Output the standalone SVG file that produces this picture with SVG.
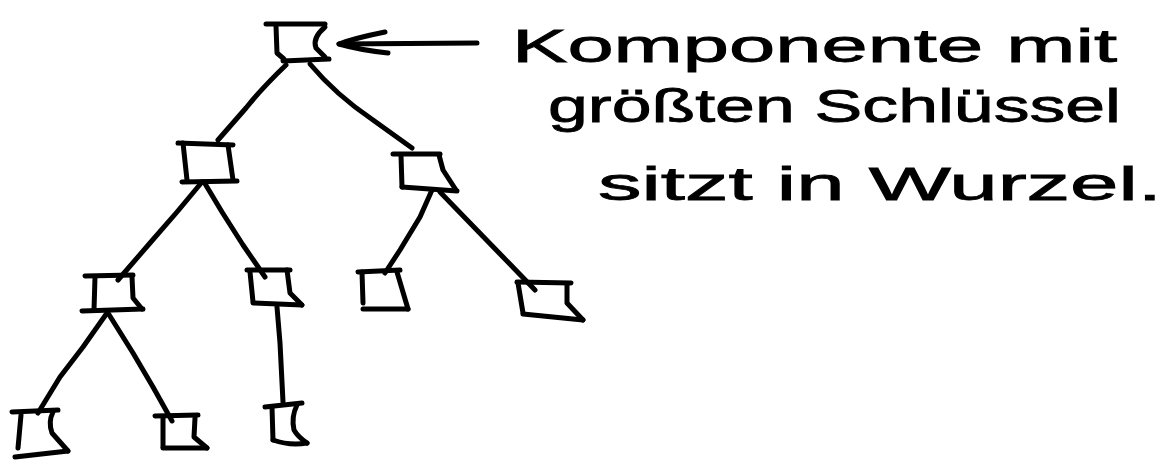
<svg xmlns="http://www.w3.org/2000/svg" width="1176" height="461" viewBox="0 0 1176 461">
<style>
.ink{fill:none;stroke:#000;stroke-width:5;stroke-linecap:round;stroke-linejoin:round}
.lbl{font-family:"Liberation Sans",Arial,sans-serif;font-size:46px;fill:#000;stroke:#000;stroke-width:0.8}
</style>
<rect width="1176" height="461" fill="#fff"/>
<g id="connectors" class="ink">
<path d="M286,65 Q262,88 246,108 L218,140"/>
<path d="M310,64 Q336,95 373,120 L412,148"/>
<path d="M202,182 L177,212 L150,243 L118,280"/>
<path d="M204,182 L222,212 L243,245 L265,277"/>
<path d="M432,190 L420,217 L400,250 L385,273"/>
<path d="M440,192 L470,223 L503,257 L535,290"/>
<path d="M107,313 L83,347 L60,377 L38,413"/>
<path d="M108,313 L133,353 L153,387 L172,421"/>
<path d="M277,307 L280,343 L283,402"/>
<path d="M477,43 L339,44"/>
<path d="M385,32 Q355,38 339,44 Q360,50 388,53"/>
</g>
<g id="root" class="ink">
<path d="M266,24 L325,24"/>
<path d="M276,26 L277,53 L284,59"/>
<path d="M283,61 L329,59"/>
<path d="M325,27 Q312,38 316,48 L325,57"/>
</g>
<g id="n1-left" class="ink">
<path d="M178,143 L233,145"/>
<path d="M183,143 L187,180"/>
<path d="M228,145 L233,180"/>
<path d="M182,182 L237,181"/>
</g>
<g id="n1-right" class="ink">
<path d="M393,154 L440,154"/>
<path d="M401,155 L402,187"/>
<path d="M439,155 L443,170 L456,190"/>
<path d="M402,187 L457,191"/>
</g>
<g id="n2-a" class="ink">
<path d="M85,276 L133,275"/>
<path d="M95,277 L94,310"/>
<path d="M132,277 L133,298 L142,309"/>
<path d="M82,311 L143,309"/>
</g>
<g id="n2-b" class="ink">
<path d="M247,270 L290,270"/>
<path d="M250,272 L253,302"/>
<path d="M287,270 L290,293 L302,305"/>
<path d="M253,303 L302,305"/>
</g>
<g id="n2-c" class="ink">
<path d="M358,272 L400,270"/>
<path d="M362,272 L363,303"/>
<path d="M397,272 L408,309"/>
<path d="M363,309 L408,309"/>
</g>
<g id="n2-d" class="ink">
<path d="M517,282 L571,283"/>
<path d="M518,283 L523,313"/>
<path d="M567,285 L567,303 L583,320"/>
<path d="M523,314 L583,320"/>
</g>
<g id="n3-a" class="ink">
<path d="M12,412 L58,410"/>
<path d="M21,415 L18,448"/>
<path d="M53,412 Q48,422 52,433 L68,451"/>
<path d="M15,457 L68,451"/>
</g>
<g id="n3-b" class="ink">
<path d="M155,416 L198,415"/>
<path d="M163,417 L163,447"/>
<path d="M195,418 L194,437 L207,448"/>
<path d="M163,448 L207,448"/>
</g>
<g id="n3-c" class="ink">
<path d="M265,407 L302,403"/>
<path d="M272,407 L273,440"/>
<path d="M297,405 Q291,417 294,430 Q298,437 307,443"/>
<path d="M273,440 Q290,446 307,443"/>
</g>
<g id="label">
<text class="lbl" x="512" y="62" textLength="605" lengthAdjust="spacingAndGlyphs">Komponente mit</text>
<text class="lbl" x="548" y="122" textLength="573" lengthAdjust="spacingAndGlyphs">größten Schlüssel</text>
<text class="lbl" x="598" y="200" textLength="564" lengthAdjust="spacingAndGlyphs">sitzt in Wurzel.</text>
</g>
</svg>
